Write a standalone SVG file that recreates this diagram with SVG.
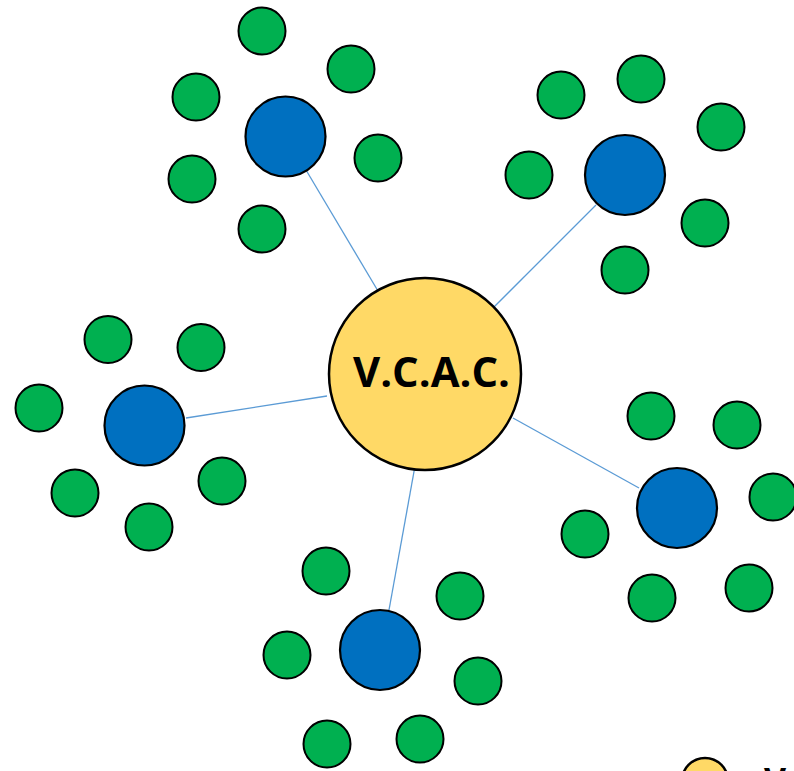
<svg xmlns="http://www.w3.org/2000/svg" width="794" height="771" viewBox="0 0 794 771">
  <style>
    .link { stroke: #5B9BD5; stroke-width: 1.3; fill: none; }
    .hub { fill: #FFD966; stroke: #000; stroke-width: 2.5; }
    .blue { fill: #0070C0; stroke: #000; stroke-width: 2.2; }
    .green { fill: #00B050; stroke: #000; stroke-width: 2; }
    .label { font-family: "Open Sans", "Liberation Sans", Arial, sans-serif; font-weight: bold; fill: #000; }
  </style>
  <rect width="794" height="771" fill="#fff"/>

  <!-- connectors from the hub to each cluster -->
  <g id="connectors">
    <line class="link" x1="306" y1="170" x2="378" y2="291"/>
    <line class="link" x1="596" y1="205" x2="494" y2="307"/>
    <line class="link" x1="186" y1="418" x2="327" y2="396"/>
    <line class="link" x1="639" y1="488" x2="513" y2="418"/>
    <line class="link" x1="389" y1="610" x2="415" y2="466"/>
  </g>

  <!-- central hub -->
  <g id="hub">
    <circle class="hub" cx="425" cy="374" r="96"/>
    <text class="label" x="431.5" y="387" font-size="41" text-anchor="middle" textLength="157" lengthAdjust="spacingAndGlyphs">V.C.A.C.</text>
  </g>

  <!-- top-left cluster -->
  <g id="cluster-tl">
    <circle class="blue" cx="285.5" cy="136.5" r="40"/>
    <circle class="green" cx="262" cy="31" r="23.5"/>
    <circle class="green" cx="351" cy="69" r="23.5"/>
    <circle class="green" cx="196" cy="97" r="23.5"/>
    <circle class="green" cx="378" cy="158" r="23.5"/>
    <circle class="green" cx="192" cy="179" r="23.5"/>
    <circle class="green" cx="262" cy="229" r="23.5"/>
  </g>

  <!-- top-right cluster -->
  <g id="cluster-tr">
    <circle class="blue" cx="625" cy="175" r="40"/>
    <circle class="green" cx="561" cy="95" r="23.5"/>
    <circle class="green" cx="641" cy="79" r="23.5"/>
    <circle class="green" cx="721" cy="127" r="23.5"/>
    <circle class="green" cx="529" cy="175" r="23.5"/>
    <circle class="green" cx="705" cy="223" r="23.5"/>
    <circle class="green" cx="625" cy="270" r="23.5"/>
  </g>

  <!-- left cluster -->
  <g id="cluster-l">
    <circle class="blue" cx="144.5" cy="425.5" r="40"/>
    <circle class="green" cx="108" cy="339.5" r="23.5"/>
    <circle class="green" cx="201" cy="347.5" r="23.5"/>
    <circle class="green" cx="39" cy="408" r="23.5"/>
    <circle class="green" cx="222" cy="481" r="23.5"/>
    <circle class="green" cx="75" cy="493" r="23.5"/>
    <circle class="green" cx="149" cy="527" r="23.5"/>
  </g>

  <!-- right cluster -->
  <g id="cluster-r">
    <circle class="blue" cx="677" cy="508" r="40"/>
    <circle class="green" cx="651" cy="416" r="23.5"/>
    <circle class="green" cx="737" cy="425" r="23.5"/>
    <circle class="green" cx="773" cy="497" r="23.5"/>
    <circle class="green" cx="585" cy="534" r="23.5"/>
    <circle class="green" cx="652" cy="598" r="23.5"/>
    <circle class="green" cx="749" cy="588" r="23.5"/>
  </g>

  <!-- bottom cluster -->
  <g id="cluster-b">
    <circle class="blue" cx="380" cy="650" r="40"/>
    <circle class="green" cx="326" cy="571" r="23.5"/>
    <circle class="green" cx="460" cy="596" r="23.5"/>
    <circle class="green" cx="287" cy="655" r="23.5"/>
    <circle class="green" cx="478" cy="681" r="23.5"/>
    <circle class="green" cx="327" cy="744" r="23.5"/>
    <circle class="green" cx="420" cy="739" r="23.5"/>
  </g>

  <!-- legend entry, running off the lower edge -->
  <g id="legend">
    <circle class="hub" cx="705" cy="781" r="23"/>
    <text class="label" x="764" y="792" font-size="34" font-weight="normal">V</text>
  </g>
</svg>
